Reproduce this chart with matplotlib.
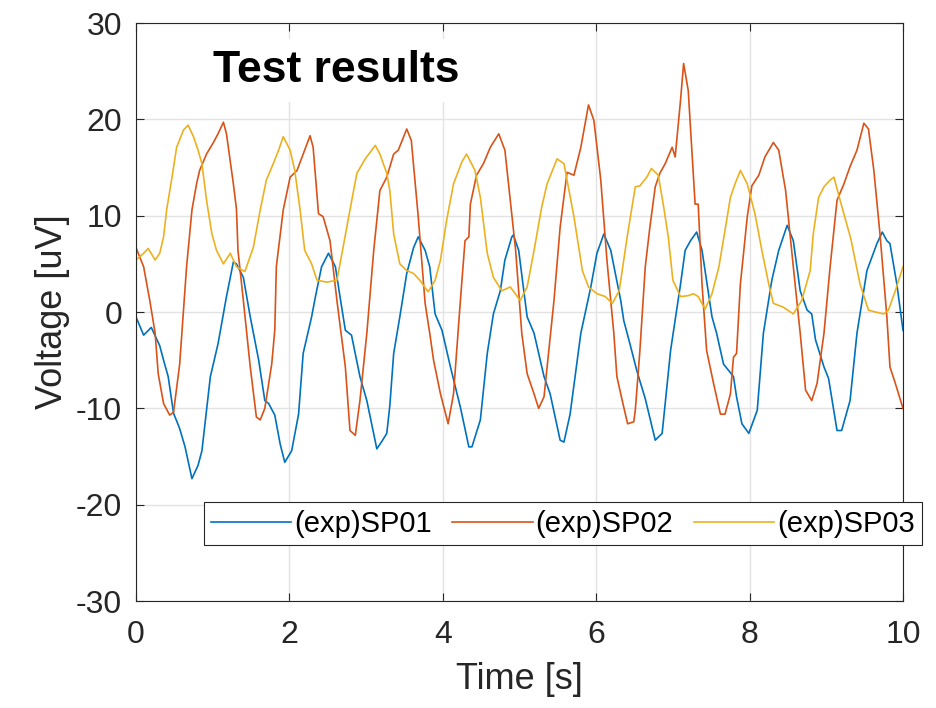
import matplotlib
matplotlib.use("Agg")
import matplotlib.pyplot as plt

# values (time [s], voltage [uV])
sp01_t = [0, 0.1, 0.2, 0.31, 0.36, 0.42, 0.49, 0.57, 0.64, 0.73, 0.81, 0.86, 0.97, 1.07, 1.18, 1.27, 1.31,
          1.4, 1.49, 1.6, 1.68, 1.73, 1.81, 1.88, 1.94, 2.03, 2.12, 2.18, 2.29, 2.34, 2.42, 2.51, 2.6, 2.66,
          2.73, 2.81, 2.92, 3.01, 3.14, 3.2, 3.27, 3.31, 3.36, 3.44, 3.53, 3.62, 3.68, 3.77, 3.83, 3.9, 3.99,
          4.1, 4.23, 4.34, 4.38, 4.49, 4.58, 4.66, 4.75, 4.81, 4.9, 4.92, 4.99, 5.05, 5.1, 5.19, 5.32, 5.4,
          5.53, 5.58, 5.66, 5.8, 5.93, 6.01, 6.1, 6.19, 6.32, 6.36, 6.44, 6.53, 6.64, 6.77, 6.86, 6.97, 7.1,
          7.16, 7.23, 7.31, 7.38, 7.51, 7.57, 7.66, 7.79, 7.83, 7.9, 7.99, 8.1, 8.18, 8.29, 8.38, 8.49, 8.57,
          8.66, 8.75, 8.81, 8.86, 8.97, 9.03, 9.14, 9.2, 9.31, 9.4, 9.53, 9.66, 9.73, 9.79, 9.83, 9.92, 10.0]
sp01_v = [-0.5, -2.4, -1.6, -3.5, -5, -6.7, -10.5, -12.1, -14, -17.3, -15.9, -14.4, -6.7, -3.3, 1.6, 5.2, 5.0,
          3.6, -0.5, -5, -9.2, -9.5, -10.7, -13.7, -15.6, -14.4, -10.6, -4.3, -0.5, 1.6, 4.7, 6.1, 4.7, 1.6,
          -1.9, -2.4, -6.7, -9.2, -14.2, -13.5, -12.6, -9.7, -4.3, -0.5, 4.0, 6.7, 7.8, 6.4, 4.7, -0.2, -1.9,
          -5.7, -9.9, -14.0, -14.0, -11.2, -4.3, -0.2, 2.2, 5.4, 7.8, 8.0, 6.4, 2.6, -0.5, -2.2, -6.7, -8.5,
          -13.3, -13.5, -10.6, -2.2, 2.6, 6.1, 8.1, 6.4, 1.2, -0.9, -3.3, -6.1, -9.0, -13.3, -12.6, -4.0, 2.9,
          6.4, 7.4, 8.3, 6.4, -0.5, -2.2, -5.4, -6.7, -8.8, -11.6, -12.6, -10.2, -2.2, 3.3, 6.4, 9.0, 7.4,
          2.2, 0.2, -0.2, -2.9, -5.7, -6.9, -12.3, -12.3, -9.2, -2.2, 4.3, 7.1, 8.3, 7.4, 7.1, 2.9, -1.9]

sp02_t = [0, 0.1, 0.18, 0.25, 0.29, 0.36, 0.44, 0.49, 0.57, 0.66, 0.73, 0.79, 0.83, 0.92, 1.01, 1.07, 1.14,
          1.18, 1.27, 1.31, 1.33, 1.4, 1.49, 1.57, 1.62, 1.68, 1.77, 1.81, 1.83, 1.92, 2.01, 2.1, 2.18, 2.27,
          2.31, 2.38, 2.44, 2.53, 2.62, 2.73, 2.79, 2.86, 2.92, 3.01, 3.1, 3.18, 3.27, 3.36, 3.42, 3.53, 3.59,
          3.68, 3.77, 3.83, 3.88, 3.97, 4.07, 4.14, 4.23, 4.29, 4.34, 4.36, 4.44, 4.53, 4.62, 4.73, 4.81,
          4.88, 4.95, 5.03, 5.1, 5.19, 5.25, 5.32, 5.36, 5.45, 5.53, 5.62, 5.71, 5.8, 5.9, 5.97, 6.06, 6.14,
          6.23, 6.27, 6.34, 6.41, 6.49, 6.51, 6.57, 6.64, 6.7, 6.77, 6.83, 6.9, 6.99, 7.03, 7.1, 7.14, 7.2,
          7.29, 7.33, 7.38, 7.44, 7.53, 7.62, 7.68, 7.75, 7.79, 7.83, 7.88, 7.97, 8.03, 8.12, 8.2, 8.31,
          8.38, 8.47, 8.57, 8.66, 8.73, 8.81, 8.88, 8.97, 9.05, 9.14, 9.23, 9.31, 9.4, 9.49, 9.55, 9.62,
          9.7, 9.79, 9.83, 9.9, 10.0]
sp02_v = [6.7, 4.7, 1.2, -2.2, -6.4, -9.5, -10.7, -10.4, -5.4, 4.7, 10.6, 13.3, 14.7, 16.4, 17.6, 18.5, 19.7,
          18.5, 13.3, 10.7, 6.4, 1.2, -5.7, -10.9, -11.2, -10, -5.4, -1.9, 4.7, 10.6, 14.0, 14.7, 16.4, 18.3,
          17.1, 10.2, 9.9, 7.4, 1.2, -5.7, -12.3, -12.8, -9.2, -2.2, 6.4, 12.6, 14.0, 16.4, 16.8, 19.0, 17.8,
          9.9, 0.9, -2.2, -5.0, -8.5, -11.6, -8.5, 1.2, 7.4, 7.8, 11.2, 14.2, 15.4, 17.1, 18.5, 16.8,
          11.6, 6.4, -2.2, -6.4, -8.5, -10, -8.8, -5.7, 1.2, 8.8, 14.5, 14.2, 17.1, 21.5, 19.9, 13.7, 5.4,
          -2.2, -6.7, -9.2, -11.6, -11.4, -10.2, -4.0, 4.7, 8.8, 13.0, 14.4, 15.4, 17.1, 16.1, 22.0, 25.8, 23.0,
          11.2, 11.2, 2.9, -4.0, -7.4, -10.6, -10.6, -8.5, -4.7, -4.3, 2.9, 9.9, 13.1, 14.2, 16.1, 17.6,
          16.8, 12.6, 4.7, -2.2, -8.1, -9.2, -7.4, -2.2, 4.7, 11.6, 13.3, 15.1, 16.8, 19.6, 19.0, 14.7,
          8.1, -0.5, -5.7, -7.4, -10.0]

sp03_t = [0, 0.1, 0.16, 0.25, 0.31, 0.36, 0.4, 0.47, 0.53, 0.62, 0.68, 0.75, 0.81, 0.86, 0.92, 0.99, 1.05,
          1.14, 1.23, 1.31, 1.42, 1.53, 1.62, 1.7, 1.79, 1.86, 1.92, 2.01, 2.07, 2.14, 2.2, 2.29, 2.36, 2.49,
          2.62, 2.7, 2.79, 2.88, 2.99, 3.12, 3.18, 3.27, 3.31, 3.36, 3.44, 3.53, 3.62, 3.7, 3.81, 3.9, 3.97,
          4.05, 4.14, 4.25, 4.31, 4.42, 4.49, 4.58, 4.66, 4.77, 4.88, 5.01, 5.1, 5.19, 5.29, 5.36, 5.49,
          5.58, 5.71, 5.82, 5.9, 6.01, 6.12, 6.21, 6.3, 6.41, 6.51, 6.57, 6.66, 6.72, 6.81, 6.88, 6.94, 7.0,
          7.1, 7.2, 7.27, 7.33, 7.42, 7.51, 7.6, 7.68, 7.75, 7.81, 7.88, 7.97, 8.07, 8.16, 8.25, 8.31, 8.44,
          8.57, 8.68, 8.79, 8.83, 8.9, 8.97, 9.05, 9.1, 9.18, 9.32, 9.44, 9.55, 9.64, 9.75, 9.81, 9.9, 10.0]
sp03_v = [5.4, 6.1, 6.6, 5.4, 6.1, 7.8, 10.6, 14, 17.1, 18.9, 19.4, 18.2, 16.8, 15.4, 11.6, 8.1, 6.4,
          5.0, 6.1, 4.7, 4.2, 6.7, 10.6, 13.7, 15.4, 16.8, 18.2, 16.8, 14.7, 10.6, 6.4, 5.0, 3.3, 3.1,
          3.3, 6.7, 10.6, 14.4, 15.9, 17.3, 16.4, 14.4, 12.6, 8.1, 5.0, 4.3, 4.0, 3.3, 2.1, 3.3, 5.4,
          9.5, 13.3, 15.6, 16.4, 14.7, 11.9, 6.1, 3.6, 2.2, 2.6, 1.2, 2.6, 6.4, 10.9, 13.3, 15.9,
          15.4, 9.9, 4.3, 2.6, 1.9, 1.6, 0.9, 2.2, 8.1, 13.0, 13.1, 14.0, 14.9, 14.2, 10.9, 7.8, 3.3,
          1.6, 1.7, 1.9, 1.6, 0.3, 1.9, 4.7, 8.5, 11.9, 13.3, 14.7, 13.3, 10.2, 6.4, 2.9, 0.9, 0.5,
          -0.2, 1.2, 4.3, 8.1, 11.9, 13.0, 13.7, 14.0, 11.6, 7.6, 2.9, 0.2, 0.0, -0.2, 0.2, 2.2, 4.7]

labels = ["(exp)SP01", "(exp)SP02", "(exp)SP03"]
colors = ["#0072BD", "#D95319", "#EDB120"]
x_ticks = [0, 2, 4, 6, 8, 10]
y_ticks = [-30, -20, -10, 0, 10, 20, 30]

plt.rcParams['font.family'] = ['Liberation Sans', 'DejaVu Sans']
plt.rcParams['axes.unicode_minus'] = False
text_col = "#262626"

fig = plt.figure(figsize=(9.37, 7.08), dpi=100)
ax = fig.add_axes([0.1451, 0.1511, 0.8186, 0.8164])

for t, v, lab, c in zip([sp01_t, sp02_t, sp03_t], [sp01_v, sp02_v, sp03_v], labels, colors):
    ax.plot(t, v, color=c, linewidth=1.2, label=lab)

ax.set_xlim(0, 10)
ax.set_ylim(-30, 30)
ax.set_xticks(x_ticks)
ax.set_yticks(y_ticks)
ax.grid(True, color="#e3e3e3", linewidth=1.0)
ax.set_axisbelow(True)
ax.tick_params(direction="in", length=6, width=0.8, colors=text_col, labelsize=23,
               top=True, right=True)
ax.tick_params(axis="x", pad=14)
ax.tick_params(axis="y", pad=10)
for s in ax.spines.values():
    s.set_color(text_col)
    s.set_linewidth(0.8)

ax.set_xlabel("Time [s]", fontsize=26, color=text_col, labelpad=8)
ax.set_ylabel("Voltage [uV]", fontsize=26, color=text_col, labelpad=4)

ax.text(0.1004, 0.918, "Test results", transform=ax.transAxes, fontsize=32, fontweight="bold",
        va="center", ha="left", color="black",
        bbox=dict(facecolor="white", edgecolor="none", pad=8))

leg = ax.legend(loc="lower left", bbox_to_anchor=(0.2177, 0.2302), bbox_transform=fig.transFigure,
                ncol=3, fontsize=21, frameon=True, fancybox=False, borderaxespad=0,
                handlelength=2.75, handletextpad=0.1, columnspacing=0.7, borderpad=0.25)
leg.get_frame().set_edgecolor(text_col)
leg.get_frame().set_linewidth(0.8)
leg.get_frame().set_alpha(1)
for txt in leg.get_texts():
    txt.set_color("black")

fig.savefig("out.png", dpi=100)
